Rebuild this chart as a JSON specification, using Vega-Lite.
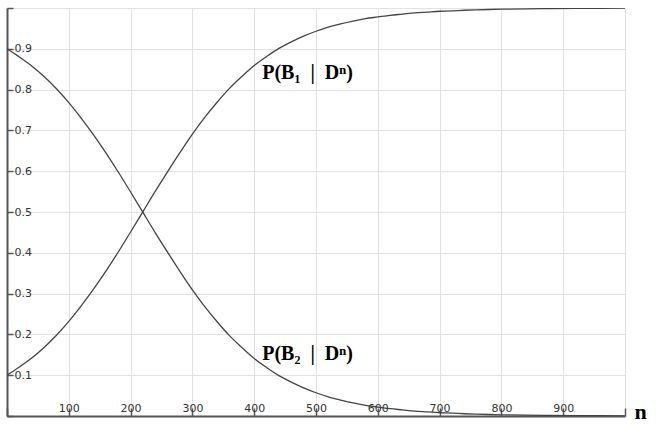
{
  "$schema": "https://vega.github.io/schema/vega-lite/v6.json",
  "width": 618,
  "height": 408,
  "autosize": {"type": "none"},
  "padding": {"left": 7, "top": 8, "right": 31, "bottom": 10},
  "background": "white",
  "config": {
    "view": {"stroke": null},
    "axis": {
      "grid": true,
      "gridColor": "#e2e2e2",
      "gridWidth": 1,
      "domainColor": "#555555",
      "domainWidth": 2,
      "tickColor": "#555555",
      "tickWidth": 1.5,
      "labelFont": "DejaVu Sans",
      "labelFontSize": 11,
      "labelColor": "#333333"
    }
  },
  "data": {
    "values": [
      {"n": 0, "b1": 0.100, "b2": 0.900},
      {"n": 20, "b1": 0.120, "b2": 0.880},
      {"n": 40, "b1": 0.142, "b2": 0.858},
      {"n": 60, "b1": 0.168, "b2": 0.832},
      {"n": 80, "b1": 0.198, "b2": 0.802},
      {"n": 100, "b1": 0.232, "b2": 0.768},
      {"n": 120, "b1": 0.270, "b2": 0.730},
      {"n": 140, "b1": 0.311, "b2": 0.689},
      {"n": 160, "b1": 0.355, "b2": 0.645},
      {"n": 180, "b1": 0.402, "b2": 0.598},
      {"n": 200, "b1": 0.451, "b2": 0.549},
      {"n": 220, "b1": 0.501, "b2": 0.499},
      {"n": 240, "b1": 0.551, "b2": 0.449},
      {"n": 260, "b1": 0.599, "b2": 0.401},
      {"n": 280, "b1": 0.646, "b2": 0.354},
      {"n": 300, "b1": 0.691, "b2": 0.309},
      {"n": 320, "b1": 0.732, "b2": 0.268},
      {"n": 340, "b1": 0.769, "b2": 0.231},
      {"n": 360, "b1": 0.803, "b2": 0.197},
      {"n": 380, "b1": 0.832, "b2": 0.168},
      {"n": 400, "b1": 0.859, "b2": 0.141},
      {"n": 420, "b1": 0.881, "b2": 0.119},
      {"n": 440, "b1": 0.901, "b2": 0.099},
      {"n": 460, "b1": 0.917, "b2": 0.083},
      {"n": 480, "b1": 0.931, "b2": 0.069},
      {"n": 500, "b1": 0.943, "b2": 0.057},
      {"n": 520, "b1": 0.953, "b2": 0.047},
      {"n": 540, "b1": 0.961, "b2": 0.039},
      {"n": 560, "b1": 0.968, "b2": 0.032},
      {"n": 580, "b1": 0.974, "b2": 0.026},
      {"n": 600, "b1": 0.978, "b2": 0.022},
      {"n": 620, "b1": 0.982, "b2": 0.018},
      {"n": 640, "b1": 0.985, "b2": 0.015},
      {"n": 660, "b1": 0.988, "b2": 0.012},
      {"n": 680, "b1": 0.990, "b2": 0.010},
      {"n": 700, "b1": 0.992, "b2": 0.008},
      {"n": 720, "b1": 0.993, "b2": 0.007},
      {"n": 740, "b1": 0.9945, "b2": 0.0055},
      {"n": 760, "b1": 0.9955, "b2": 0.0045},
      {"n": 780, "b1": 0.9963, "b2": 0.0037},
      {"n": 800, "b1": 0.997, "b2": 0.003},
      {"n": 840, "b1": 0.998, "b2": 0.002},
      {"n": 880, "b1": 0.9986, "b2": 0.0014},
      {"n": 920, "b1": 0.9991, "b2": 0.0009},
      {"n": 960, "b1": 0.9994, "b2": 0.0006},
      {"n": 1000, "b1": 0.9996, "b2": 0.0004}
    ]
  },
  "encoding": {
    "x": {
      "field": "n",
      "type": "quantitative",
      "scale": {"domain": [0, 1000], "nice": false, "zero": true},
      "axis": {
        "values": [0, 100, 200, 300, 400, 500, 600, 700, 800, 900, 1000],
        "labelExpr": "datum.value == 0 || datum.value == 1000 ? '' : datum.label",
        "tickSize": -8,
        "labelPadding": 3,
        "labelBaseline": "alphabetic",
        "title": "n",
        "titleFont": "Liberation Serif",
        "titleFontWeight": "bold",
        "titleFontSize": 22,
        "titleColor": "#000000",
        "titleAlign": "left",
        "titleBaseline": "alphabetic",
        "titleX": 627,
        "titleY": 2
      }
    }
  },
  "layer": [
    {
      "mark": {"type": "line", "color": "#444444", "strokeWidth": 1.3, "interpolate": "monotone", "clip": true},
      "encoding": {
        "y": {
          "field": "b1",
          "type": "quantitative",
          "scale": {"domain": [0, 1], "nice": false},
          "axis": {
            "values": [0, 0.1, 0.2, 0.3, 0.4, 0.5, 0.6, 0.7, 0.8, 0.9, 1],
            "labelExpr": "datum.value == 0 || datum.value == 1 ? '' : datum.label",
            "tickSize": -6,
            "labelPadding": -1,
            "labelAlign": "left",
            "labelBaseline": "middle",
            "title": null
          }
        }
      }
    },
    {
      "mark": {"type": "line", "color": "#444444", "strokeWidth": 1.3, "interpolate": "monotone", "clip": true},
      "encoding": {"y": {"field": "b2", "type": "quantitative"}}
    },
    {
      "data": {
        "values": [
          {"n": 413, "p": 0.827, "label": "P(B₁\u2002|\u2002Dⁿ)"},
          {"n": 413, "p": 0.137, "label": "P(B₂\u2002|\u2002Dⁿ)"}
        ]
      },
      "mark": {
        "type": "text",
        "align": "left",
        "baseline": "alphabetic",
        "font": "Liberation Serif",
        "fontWeight": "bold",
        "fontSize": 20,
        "color": "#000000"
      },
      "encoding": {
        "y": {"field": "p", "type": "quantitative"},
        "text": {"field": "label"}
      }
    }
  ]
}
